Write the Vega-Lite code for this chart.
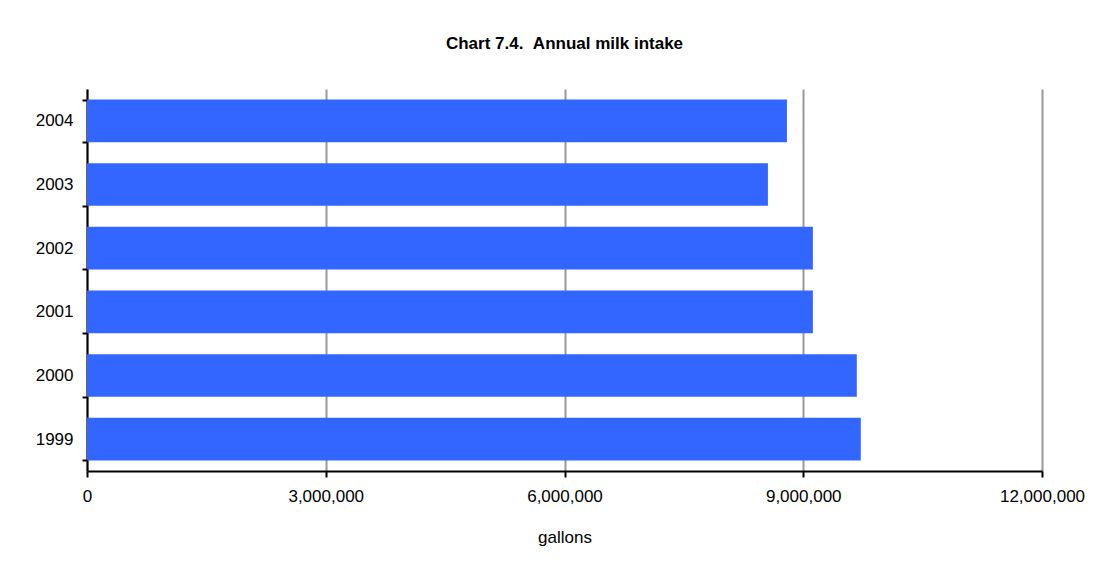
{
  "$schema": "https://vega.github.io/schema/vega-lite/v6.json",
  "autosize": {"type": "none"},
  "width": 955,
  "height": 382,
  "padding": {"left": 87, "top": 89, "right": 70, "bottom": 96},
  "background": "white",
  "title": {
    "text": "Chart 7.4.\u00a0\u00a0Annual milk intake",
    "font": "Liberation Sans",
    "fontSize": 17,
    "fontWeight": "bold",
    "color": "black",
    "anchor": "middle",
    "baseline": "alphabetic",
    "offset": 14
  },
  "data": {
    "values": [
      {"year": "2004", "gallons": 8795000},
      {"year": "2003", "gallons": 8556000},
      {"year": "2002", "gallons": 9121000},
      {"year": "2001", "gallons": 9121000},
      {"year": "2000", "gallons": 9673000},
      {"year": "1999", "gallons": 9723000}
    ]
  },
  "mark": {"type": "bar", "color": "#3366FF"},
  "encoding": {
    "y": {
      "field": "year",
      "type": "ordinal",
      "sort": "descending",
      "scale": {"paddingInner": 0.33, "paddingOuter": 0.165},
      "axis": {
        "title": null,
        "domainColor": "black",
        "domainWidth": 2,
        "tickColor": "black",
        "tickWidth": 2,
        "tickSize": 5,
        "tickBand": "extent",
        "labelFont": "Liberation Sans",
        "labelFontSize": 17,
        "labelColor": "black",
        "labelPadding": 9,
        "grid": false
      }
    },
    "x": {
      "field": "gallons",
      "type": "quantitative",
      "scale": {"domain": [0, 12000000], "nice": false},
      "axis": {
        "title": "gallons",
        "titleFont": "Liberation Sans",
        "titleFontSize": 17,
        "titleFontWeight": "normal",
        "titleColor": "black",
        "titlePadding": 25,
        "values": [0, 3000000, 6000000, 9000000, 12000000],
        "format": ",d",
        "domainColor": "black",
        "domainWidth": 2,
        "tickColor": "black",
        "tickWidth": 2,
        "tickSize": 6,
        "labelFont": "Liberation Sans",
        "labelFontSize": 17,
        "labelColor": "black",
        "labelPadding": 11,
        "labelDx": -7,
        "labelFlush": false,
        "grid": true,
        "gridColor": "#999999",
        "gridWidth": 2
      }
    }
  },
  "config": {"view": {"stroke": null}}
}
